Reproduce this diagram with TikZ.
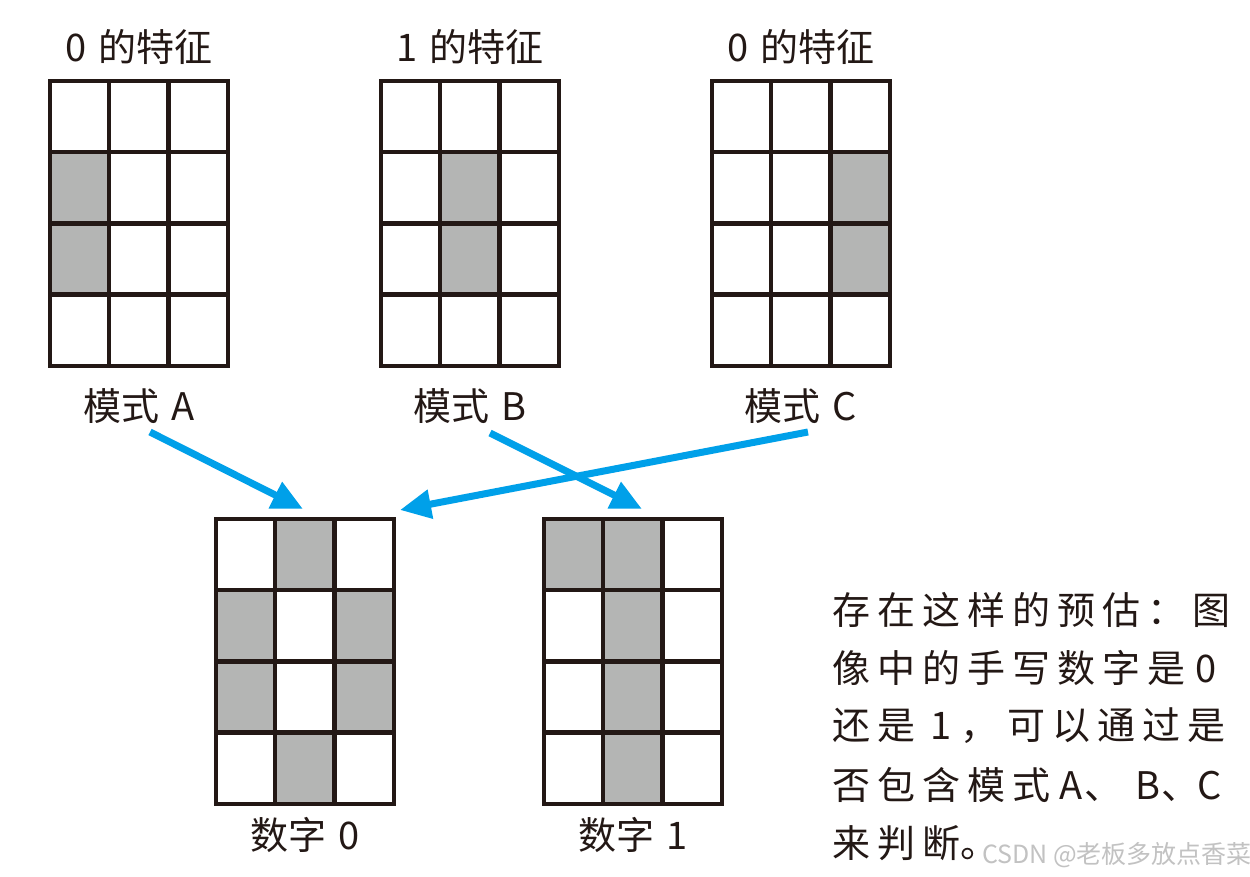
\documentclass[tikz,border=0pt]{standalone}
\usepackage{fontspec}
\setmainfont{Noto Sans CJK SC}
\usetikzlibrary{arrows.meta, positioning, calc}

\definecolor{gridcol}{HTML}{231815}
\definecolor{cellgray}{HTML}{B4B5B4}
\definecolor{arrowblue}{HTML}{00A0E9}
\definecolor{markgray}{HTML}{C2C2C2}

% one character of the note, fixed pitch
\newcommand{\zi}[1]{\makebox[45pt][l]{#1}}
% space between a digit/letter and the Chinese words
\newcommand{\gap}{\hspace{12pt}}
% 3x4 pixel grid on node #1, filled cells #2 (col/row)
\newcommand{\pixgrid}[2]{%
  \foreach \cx/\ry in {#2}
    \fill[cellgray] ($(#1.north west)+(\cx*59.33,\ry*71.25)$) rectangle ++(59.33,71.25);
  \foreach \i in {1,2}
    \draw[gridline] ($(#1.north west)+(\i*59.33,0)$) -- ++(0,285);
  \foreach \j in {1,2,3}
    \draw[gridline] ($(#1.north west)+(0,\j*71.25)$) -- ++(178,0);
  \draw[gridline] (#1.north west) rectangle (#1.south east);
}

\begin{document}
\begin{tikzpicture}[
    x=1pt, y=-1pt,
    gridbox/.style={rectangle, minimum width=178pt, minimum height=285pt, inner sep=0pt},
    gridline/.style={draw=gridcol, line width=4.5pt},
    lbl/.style={font=\fontsize{38}{44}\selectfont, text=gridcol, inner sep=0pt},
    note/.style={font=\fontsize{38}{44}\selectfont, text=gridcol, inner sep=0pt, anchor=west},
    arrow/.style={-{Triangle[length=31pt, width=28pt]}, draw=arrowblue, line width=7pt}
  ]
    \path[use as bounding box, fill=white] (0,0) rectangle (1250,876);

    % Feature patterns
    \node[gridbox] (patA) at (139,223.5) {};
    \node[gridbox] (patB) at (470,223.5) {};
    \node[gridbox] (patC) at (801,223.5) {};
    \pixgrid{patA}{0/1, 0/2}
    \pixgrid{patB}{1/1, 1/2}
    \pixgrid{patC}{2/1, 2/2}

    % Digits
    \node[gridbox] (digZero) at (305,661.5) {};
    \node[gridbox] (digOne) at (633,661.5) {};
    \pixgrid{digZero}{1/0, 0/1, 2/1, 0/2, 2/2, 1/3}
    \pixgrid{digOne}{0/0, 1/0, 1/1, 1/2, 1/3}

    % Labels
    \node[lbl, above=16pt of patA] (featA) {0\gap 的特征};
    \node[lbl, above=16pt of patB] (featB) {1\gap 的特征};
    \node[lbl, above=16pt of patC] (featC) {0\gap 的特征};
    \node[lbl, below=22pt of patA] (nameA) {模式\gap A};
    \node[lbl, below=22pt of patB] (nameB) {模式\gap B};
    \node[lbl, below=22pt of patC] (nameC) {模式\gap C};
    \node[lbl, below=13pt of digZero] (nameZero) {数字\gap 0};
    \node[lbl, below=13pt of digOne] (nameOne) {数字\gap 1};

    % Note
    \node[note] (line1) at (832,610) {\zi{存}\zi{在}\zi{这}\zi{样}\zi{的}\zi{预}\zi{估}\zi{：}\zi{图}};
    \node[note] (line2) at (832,668) {\zi{像}\zi{中}\zi{的}\zi{手}\zi{写}\zi{数}\zi{字}\zi{是}\hspace{3pt}0};
    \node[note] (line3) at (832,726) {\zi{还}\zi{是}\makebox[38pt][c]{1}\makebox[47pt][l]{，}\zi{可}\zi{以}\zi{通}\zi{过}\zi{是}};
    \node[note] (line4) at (832,785) {\zi{否}\zi{包}\zi{含}\zi{模}\zi{式}\makebox[27pt][c]{A}\makebox[50pt][l]{、}\makebox[27pt][c]{B}\makebox[36pt][l]{、}C};
    \node[note] (line5) at (832,843) {\zi{来}\zi{判}\makebox[38pt][l]{断}\zi{。}};
    \node[anchor=west, inner sep=0pt, text=markgray, font=\fontsize{25}{30}\selectfont] (mark) at (982,855) {CSDN @老板多放点香菜};

    % Arrows
    \coordinate (fromA) at (150,432);
    \coordinate (fromB) at (490,433);
    \coordinate (fromC) at (808,432);
    \coordinate (toZeroL) at (303,509);
    \coordinate (toOne) at (642,509);
    \coordinate (toZeroR) at (400,510);
    \draw[arrow] (fromA) -- (toZeroL);
    \draw[arrow] (fromB) -- (toOne);
    \draw[arrow] (fromC) -- (toZeroR);
  \end{tikzpicture}
\end{document}
